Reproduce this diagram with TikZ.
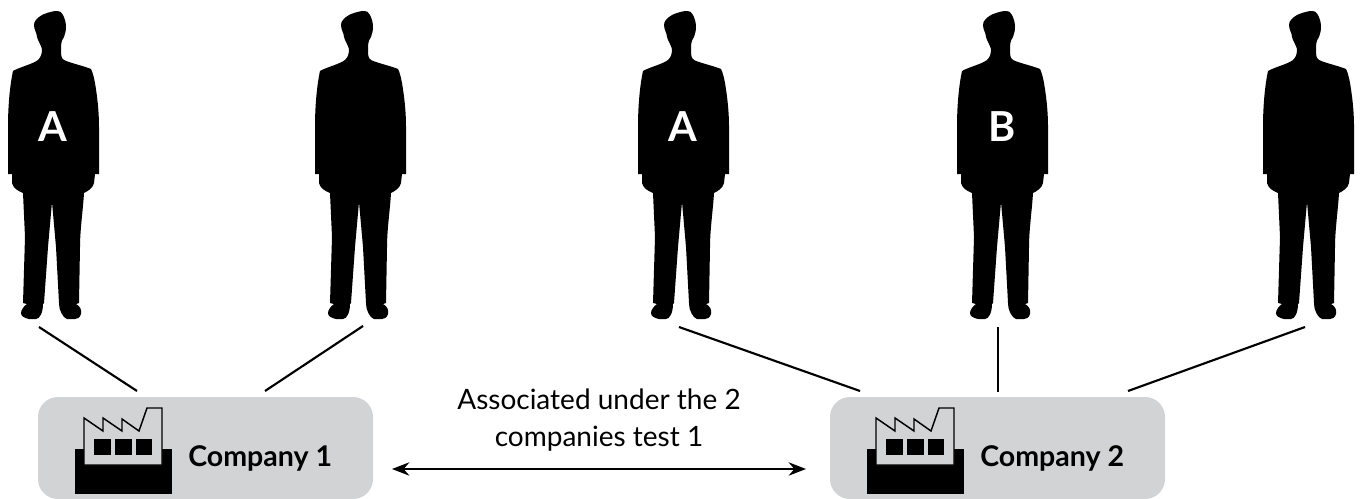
\documentclass[tikz,border=0pt]{standalone}
\usepackage{fontspec}
\setmainfont{Lato}
\usetikzlibrary{arrows.meta}
\definecolor{boxgray}{RGB}{209,211,212}
\tikzset{
  x=0.75pt,y=-0.75pt,
  person/.pic={
    \fill[black] (55,11) .. controls (60,11) and (62,12) .. (63,15)
      .. controls (65,19) and (66,23) .. (66,27)
      .. controls (66,31) and (65,34) .. (64,37) .. controls (61,41) and (61,45) .. (61,49)
      .. controls (61,55) and (61,58) .. (64,60)
      .. controls (70,63) and (84,66) .. (91,69) .. controls (93,73) and (94,78) .. (95,83)
      .. controls (97,95) and (99,110) .. (99,127)
      -- (99,174) -- (95,174) -- (94,183) .. controls (93,188) and (88,191) .. (84,193)
      .. controls (83,210) and (80,230) .. (80,247) -- (79,303) -- (76,304)
      .. controls (80,306) and (82,310) .. (81,314) .. controls (80,318) and (77,319) .. (75,319)
      -- (67,319) .. controls (63,318) and (59,310) .. (59,304) -- (59,303) -- (56,247) -- (52,202)
      -- (48,247) -- (44,303) -- (43,304) .. controls (43,312) and (40,319) .. (36,319)
      -- (29,319) .. controls (24,318) and (21,316) .. (21,313) .. controls (21,310) and (24,306) .. (27,304)
      -- (23,303) -- (25,237) -- (23,193) .. controls (18,191) and (13,188) .. (12,183)
      -- (12,174) -- (8,174) -- (8,127) .. controls (8,105) and (10,85) .. (13,71)
      .. controls (20,67) and (33,64) .. (38,60)
      .. controls (41,57) and (42,54) .. (42,49) .. controls (41,45) and (38,41) .. (37,37)
      .. controls (37,33) and (34,30) .. (34,25) .. controls (34,21) and (37,18) .. (42,15)
      .. controls (46,13) and (50,12) .. (55,11) -- cycle;
  },
  factory/.pic={
    \fill[black] (75,449) rectangle (172,494);
    \draw[black,line width=1.1pt,fill=boxgray,line join=miter] (84,418) -- (103,431) -- (103,418) -- (122,431) -- (122,419) -- (139,431) -- (147,408) -- (162,408) -- (162,465) -- (84,465) -- cycle;
    \fill[black] (94,439) rectangle (111,455);
    \fill[black] (115,439) rectangle (132,455);
    \fill[black] (136,439) rectangle (152,455);
  },
  companybox/.style={fill=boxgray,rounded corners=15pt,minimum width=251.25pt,minimum height=76.5pt,inner sep=0pt,draw=none},
  companylabel/.style={font=\fontsize{21.4}{25}\selectfont\bfseries,inner sep=0pt,anchor=west,text=black},
  letter/.style={font=\fontsize{31}{36}\selectfont\bfseries,text=white,inner sep=0pt},
  midtext/.style={font=\fontsize{21}{28}\selectfont,align=center,inner sep=0pt,text=black},
  link/.style={line width=1.6pt,black},
  biarrow/.style={line width=1.5pt,black,{Stealth[length=13pt,width=10pt]}-{Stealth[length=13pt,width=10pt]}},
}
\begin{document}
\begin{tikzpicture}
\useasboundingbox (0,0) rectangle (1362,499);
\pic at (0,0) {person};
\pic at (307,0) {person};
\pic at (630,0) {person};
\pic at (949,0) {person};
\pic at (1255,0) {person};
\node[letter] (la) at (53,127) {A};
\node[letter] (lb) at (683,127) {A};
\node[letter] (lc) at (1002,127) {B};
\node[companybox] (c1) at (205.5,448) {};
\node[companybox] (c2) at (997.5,448) {};
\pic at (0,0) {factory};
\pic at (792,0) {factory};
\node[companylabel] (t1) at (188,458) {Company 1};
\node[companylabel] (t2) at (980,458) {Company 2};
\node[midtext] (mid) at (599,420) {Associated under the 2\\companies test 1};
\coordinate (f1) at (39,327);
\coordinate (f2) at (363,326);
\coordinate (f3) at (679,327);
\coordinate (f4) at (998,327);
\coordinate (f5) at (1305,327);
\coordinate (b1) at (137,391);
\coordinate (b2) at (265,391);
\coordinate (b3) at (860,391);
\coordinate (b4) at (998,392);
\coordinate (b5) at (1128,391);
\draw[link] (f1) -- (b1);
\draw[link] (f2) -- (b2);
\draw[link] (f3) -- (b3);
\draw[link] (f4) -- (b4);
\draw[link] (f5) -- (b5);
\coordinate (a1) at (392,469);
\coordinate (a2) at (806,469);
\draw[biarrow] (a1) -- (a2);
\end{tikzpicture}
\end{document}
